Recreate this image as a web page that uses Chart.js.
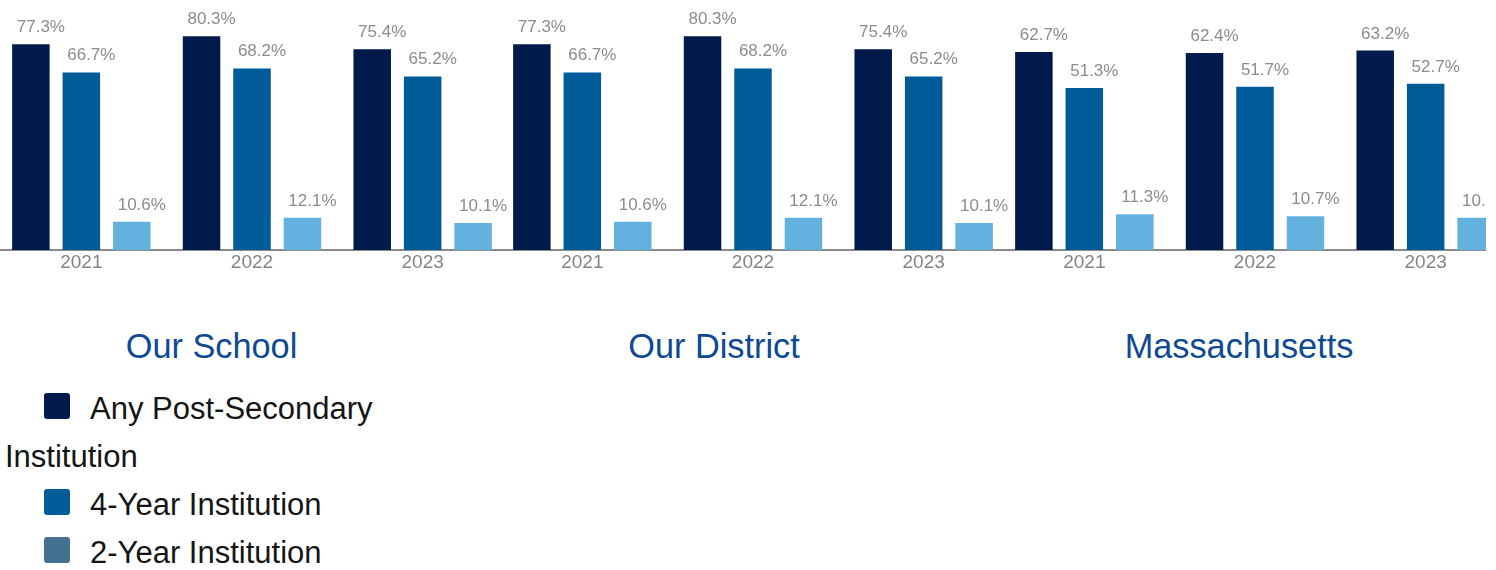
<!DOCTYPE html>
<html><head><meta charset="utf-8">
<script src="https://cdn.jsdelivr.net/npm/chart.js@4/dist/chart.umd.min.js"></script>
<style>
html,body{margin:0;padding:0;background:#fff;width:1496px;height:570px;overflow:hidden;position:relative;font-family:"Liberation Sans",Arial,sans-serif;}
#frame{position:absolute;left:0;top:0;width:1486px;height:570px;overflow:hidden;}
.panel{position:absolute;top:0;width:512px;height:280px;}
.group{position:absolute;top:328.5px;font-size:34.3px;line-height:34px;color:#0d4a94;white-space:nowrap;transform:translateX(-50%);}
#legend{position:absolute;left:5px;top:385.3px;width:380px;font-size:31px;line-height:48px;color:#151515;}
#legend .box{display:inline-block;width:26px;height:26px;border-radius:3px;margin-left:39px;margin-right:20px;vertical-align:baseline;}
</style>
</head><body>
<div id="frame">
<canvas id="c0" class="panel" width="512" height="280" style="left:-4px"></canvas>
<canvas id="c1" class="panel" width="512" height="280" style="left:497px"></canvas>
<canvas id="c2" class="panel" width="512" height="280" style="left:999px"></canvas>
<div id="titles"></div>
<div id="legend"></div>
</div>
<script>
const years = ['2021', '2022', '2023'];
const regions = ['Our School', 'Our District', 'Massachusetts'];
const seriesNames = ['Any Post-Secondary Institution', '4-Year Institution', '2-Year Institution'];
const schoolAny = [77.3, 80.3, 75.4];
const school4yr = [66.7, 68.2, 65.2];
const school2yr = [10.6, 12.1, 10.1];
const districtAny = [77.3, 80.3, 75.4];
const district4yr = [66.7, 68.2, 65.2];
const district2yr = [10.6, 12.1, 10.1];
const maAny = [62.7, 62.4, 63.2];
const ma4yr = [51.3, 51.7, 52.7];
const ma2yr = [11.3, 10.7, 10.2];

const barColors = ['#011a4c', '#005b99', '#63b1de'];
const legendColors = ['#011a4c', '#005b99', '#44718f'];
const titleCenters = [211.5, 714, 1239];
const yMaxes = [93.9, 93.9, 79.2];
const FONT = '"Liberation Sans", Arial, sans-serif';

const panelData = [
  [schoolAny, school4yr, school2yr],
  [districtAny, district4yr, district2yr],
  [maAny, ma4yr, ma2yr]
];

const labelPlugin = {
  id: 'barLabels',
  afterDatasetsDraw(chart) {
    const ctx = chart.ctx;
    ctx.save();
    ctx.font = '17px ' + FONT;
    ctx.fillStyle = '#8c8c8c';
    ctx.textAlign = 'center';
    ctx.textBaseline = 'alphabetic';
    chart.data.datasets.forEach((ds, i) => {
      chart.getDatasetMeta(i).data.forEach((bar, j) => {
        ctx.fillText(ds.data[j].toFixed(1) + '%', bar.x + 10, bar.y - 12);
      });
    });
    ctx.restore();
  }
};

panelData.forEach((series, p) => {
  new Chart(document.getElementById('c' + p), {
    type: 'bar',
    data: {
      labels: years,
      datasets: series.map((vals, k) => ({
        label: seriesNames[k],
        data: vals,
        backgroundColor: barColors[k],
        borderWidth: 0,
        categoryPercentage: 0.887,
        barPercentage: 0.743
      }))
    },
    options: {
      responsive: false,
      animation: false,
      layout: { padding: 0 },
      plugins: { legend: { display: false }, tooltip: { enabled: false }, title: { display: false } },
      scales: {
        x: {
          grid: { display: false, drawTicks: false },
          border: { display: true, color: '#8a8a8a', width: 2 },
          ticks: { color: '#858585', font: { size: 19, family: FONT }, padding: 1 },
          afterFit(s) { s.height = 30; }
        },
        y: { display: false, min: 0, max: yMaxes[p] }
      }
    },
    plugins: [labelPlugin]
  });
});

const titles = document.getElementById('titles');
regions.forEach((r, i) => {
  const d = document.createElement('div');
  d.className = 'group';
  d.style.left = titleCenters[i] + 'px';
  d.textContent = r;
  titles.appendChild(d);
});

const legend = document.getElementById('legend');
seriesNames.forEach((n, i) => {
  const item = document.createElement('div');
  const box = document.createElement('span');
  box.className = 'box';
  box.style.background = legendColors[i];
  item.appendChild(box);
  item.appendChild(document.createTextNode(n));
  legend.appendChild(item);
});
</script>
</body></html>
